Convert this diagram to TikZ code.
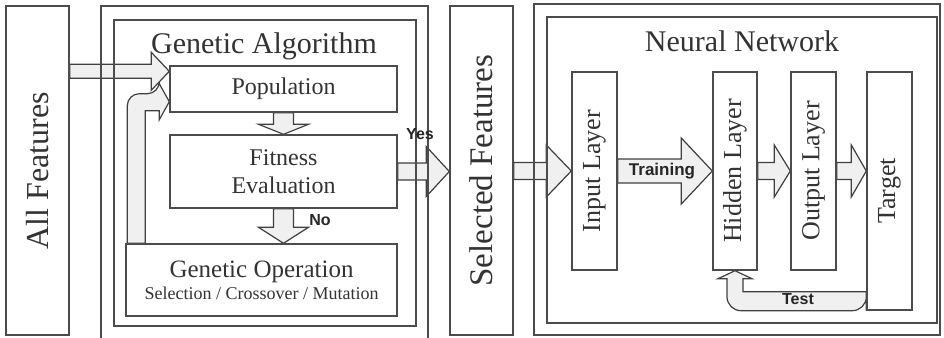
\documentclass[tikz,border=0pt]{standalone}
\usepackage{fontspec}
\setmainfont{Liberation Serif}
\newfontfamily\labelfont{Liberation Sans}
\usepackage{graphicx}
\usetikzlibrary{calc, backgrounds}

\begin{document}
\begin{tikzpicture}[
    x=1pt, y=-1pt,
    box/.style={rectangle, draw=black!70, line width=1.4pt, inner sep=0pt, text=black!80, align=center},
    frame/.style={rectangle, draw=black!70, line width=1.4pt, inner sep=0pt},
    tag/.style={font=\labelfont\bfseries\fontsize{16}{16}\selectfont, text=black!85, inner sep=0pt},
    fatarrow/.style={draw=black!75, line width=1.2pt, fill=black!6, line join=miter},
    fatright/.style n args={3}{fatarrow, to path={let \p1=(\tikztostart), \p2=(\tikztotarget) in
        (\x1,\y2+#1pt) -- (\x2-#3pt,\y2+#1pt) -- (\x2-#3pt,\y2+#2pt) -- (\x2,\y2)
        -- (\x2-#3pt,\y2-#2pt) -- (\x2-#3pt,\y2-#1pt) -- (\x1,\y2-#1pt) -- cycle}},
    fatdown/.style n args={3}{fatarrow, to path={let \p1=(\tikztostart), \p2=(\tikztotarget) in
        (\x2+#1pt,\y1) -- (\x2+#1pt,\y2+#3pt) -- (\x2+#2pt,\y2+#3pt) -- (\x2,\y2)
        -- (\x2-#2pt,\y2+#3pt) -- (\x2-#1pt,\y2+#3pt) -- (\x2-#1pt,\y1) -- cycle}}
]

\useasboundingbox (0,0) rectangle (944,337);
\clip (0,0) rectangle (944,337);

% ============ ALL FEATURES ============
\node[box, minimum width=63, minimum height=329] (allfeat) at (37.5,170.5)
    {\rotatebox{90}{\fontsize{32}{32}\selectfont All Features}};

% ============ GENETIC ALGORITHM ============
\node[frame, minimum width=327, minimum height=340] (gaouter) at (264.5,176) {};
\node[frame, minimum width=302, minimum height=306] (gainner) at (265,173) {};
\node[anchor=base, text=black!80, font=\fontsize{30}{32}\selectfont] (gatitle) at (264,54) {Genetic Algorithm};

\node[box, minimum width=227, minimum height=46, font=\fontsize{24}{28}\selectfont] (pop) at (283.5,89) {Population};
\node[box, minimum width=227, minimum height=73, font=\fontsize{24}{28}\selectfont] (fit) at (283.5,171.5) {Fitness\\Evaluation};
\node[box, minimum width=271, minimum height=72] (genop) at (261.5,280)
    {\fontsize{25}{25}\selectfont Genetic Operation\\[3pt]\fontsize{18}{20}\selectfont Selection / Crossover / Mutation};

\coordinate (popin) at ($(pop.north west)+(0,6)$);
\coordinate (loopin) at ($(pop.south west)+(0,-11)$);

\node[tag] (yes) at (420,134) {Yes};
\node[tag] (no) at (320,220) {No};

% ============ SELECTED FEATURES ============
\node[box, minimum width=63, minimum height=329] (selfeat) at (481.5,170.5)
    {\rotatebox{90}{\fontsize{33}{33}\selectfont Selected Features}};

% ============ NEURAL NETWORK ============
\node[frame, minimum width=406, minimum height=331] (nnouter) at (737,169.5) {};
\node[frame, minimum width=390, minimum height=306] (nninner) at (742,170) {};
\node[anchor=base, text=black!80, font=\fontsize{30}{32}\selectfont] (nntitle) at (742,52) {Neural Network};

\node[box, minimum width=45, minimum height=198] (inlayer) at (594.5,171)
    {\rotatebox{90}{\fontsize{26}{26}\selectfont Input Layer}};
\node[box, minimum width=44, minimum height=198] (hidlayer) at (735,171)
    {\rotatebox{90}{\fontsize{26}{26}\selectfont Hidden Layer}};
\node[box, minimum width=45, minimum height=198] (outlayer) at (813.5,171)
    {\rotatebox{90}{\fontsize{26}{26}\selectfont Output Layer}};
\node[box, minimum width=45, minimum height=238] (target) at (889.5,191)
    {\rotatebox{90}{\fontsize{26}{26}\selectfont Target}};

\node[tag, font=\labelfont\bfseries\fontsize{17}{17}\selectfont] (train) at (662,171) {Training};
\node[tag] (test) at (798,299) {Test};

% ============ BLOCK ARROWS ============
\begin{pgfonlayer}{background}
    \draw[fatright={7}{19}{18}] (allfeat.east |- popin) to (popin);
    \draw[fatdown={10}{25}{10}] (pop.south) to (fit.north);
    \draw[fatdown={10}{25}{16}] (fit.south) to (genop.north -| fit.south);
    \draw[fatright={8.5}{25}{23}] (fit.east) to (selfeat.west |- fit.east);
    \draw[fatright={8.5}{26}{25}] (selfeat.east |- inlayer.west) to (inlayer.west);
    \draw[fatright={12}{33}{31}] (inlayer.east) to (hidlayer.west);
    \draw[fatright={8.5}{26}{16}] (hidlayer.east) to (outlayer.west);
    \draw[fatright={8.5}{26}{15}] (outlayer.east) to (target.west |- outlayer.east);

    % loop back to population
    \draw[fatarrow] ($(genop.north west)+(2,0)$) [rounded corners=12pt] |- ($(loopin)+(-10,-8)$)
        [sharp corners] -- ++(0,-10) -- (loopin) -- ++(-10,18) -- ++(0,-9)
        -- ($(loopin)+(-24,9)$) -- ($(genop.north west)+(20,0)$) -- cycle;

    % test feedback
    \draw[fatarrow] (target.south west) -- ++(0,-19) -- ($(hidlayer.south)+(8,21)$)
        -- ($(hidlayer.south)+(8,8)$) -- ($(hidlayer.south)+(17,8)$) -- (hidlayer.south)
        -- ($(hidlayer.south)+(-17,8)$) -- ($(hidlayer.south)+(-8,8)$)
        [rounded corners=14pt] |- (target.south west) [sharp corners] -- cycle;
\end{pgfonlayer}

\end{tikzpicture}
\end{document}
